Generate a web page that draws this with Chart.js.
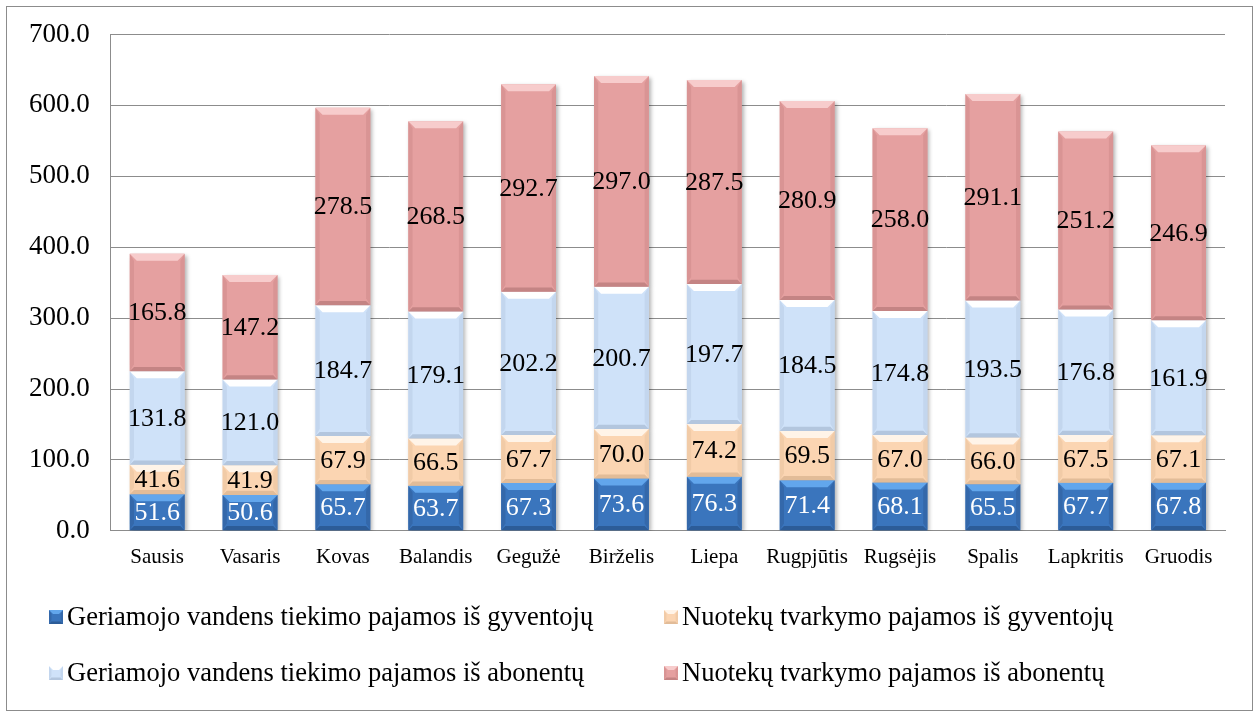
<!DOCTYPE html>
<html>
<head>
<meta charset="utf-8">
<script src="https://cdn.jsdelivr.net/npm/chart.js@4/dist/chart.umd.min.js"></script>
<style>
  html, body { margin: 0; padding: 0; background: #fff; }
  #wrap { width: 1259px; height: 711px; }
</style>
</head>
<body>
<div id="wrap"><canvas id="chart" width="1259" height="711"></canvas></div>
<script>
const months = ['Sausis', 'Vasaris', 'Kovas', 'Balandis', 'Gegužė', 'Birželis', 'Liepa', 'Rugpjūtis', 'Rugsėjis', 'Spalis', 'Lapkritis', 'Gruodis'];

const waterResidents = [51.6, 50.6, 65.7, 63.7, 67.3, 73.6, 76.3, 71.4, 68.1, 65.5, 67.7, 67.8];
const sewageResidents = [41.6, 41.9, 67.9, 66.5, 67.7, 70.0, 74.2, 69.5, 67.0, 66.0, 67.5, 67.1];
const waterSubscribers = [131.8, 121.0, 184.7, 179.1, 202.2, 200.7, 197.7, 184.5, 174.8, 193.5, 176.8, 161.9];
const sewageSubscribers = [165.8, 147.2, 278.5, 268.5, 292.7, 297.0, 287.5, 280.9, 258.0, 291.1, 251.2, 246.9];

const yTicks = [0, 100, 200, 300, 400, 500, 600, 700];

const FONT = '"Liberation Serif", "Times New Roman", serif';

// face colour + bevel colours for each series
const styles = [
  { fill: '#3a75bd', light: '#62a6ec', dark: '#2c5c98', side: '#3468aa', text: '#ffffff' },
  { fill: '#fbd5b2', light: '#fff4e8', dark: '#e2bc98', side: '#f1cba7', text: '#000000' },
  { fill: '#cfe2f9', light: '#ffffff', dark: '#b3c6de', side: '#c3d6ee', text: '#000000' },
  { fill: '#e5a0a0', light: '#f7cccc', dark: '#c48484', side: '#d99494', text: '#000000' }
];

// bevel painter used for bars and legend markers
function bevel(ctx, l, t, r, b, st, size) {
  const s = Math.min(size, (b - t) / 2, (r - l) / 2);
  ctx.fillStyle = st.side;
  ctx.beginPath(); ctx.moveTo(l, t); ctx.lineTo(l + s * 0.6, t + s); ctx.lineTo(l + s * 0.6, b - s); ctx.lineTo(l, b); ctx.closePath(); ctx.fill();
  ctx.beginPath(); ctx.moveTo(r, t); ctx.lineTo(r - s * 0.6, t + s); ctx.lineTo(r - s * 0.6, b - s); ctx.lineTo(r, b); ctx.closePath(); ctx.fill();
  ctx.fillStyle = st.light;
  ctx.beginPath(); ctx.moveTo(l, t); ctx.lineTo(r, t); ctx.lineTo(r - s, t + s); ctx.lineTo(l + s, t + s); ctx.closePath(); ctx.fill();
  ctx.fillStyle = st.dark;
  ctx.beginPath(); ctx.moveTo(l, b); ctx.lineTo(r, b); ctx.lineTo(r - s * 0.6, b - s * 0.6); ctx.lineTo(l + s * 0.6, b - s * 0.6); ctx.closePath(); ctx.fill();
}

const framePlugin = {
  id: 'frame',
  beforeDraw(chart) {
    const ctx = chart.ctx;
    ctx.save();
    ctx.fillStyle = '#fff';
    ctx.fillRect(0, 0, chart.width, chart.height);
    ctx.strokeStyle = '#8c8c8c';
    ctx.lineWidth = 1;
    ctx.strokeRect(6.5, 6.5, chart.width - 13, chart.height - 7);
    ctx.restore();
  }
};

const shadowPlugin = {
  id: 'barShadow',
  beforeDatasetsDraw(chart) {
    const ctx = chart.ctx;
    ctx.save();
    ctx.shadowColor = 'rgba(0,0,0,0.3)';
    ctx.shadowBlur = 4;
    ctx.shadowOffsetX = 2;
    ctx.shadowOffsetY = 2;
  },
  afterDatasetsDraw(chart) {
    chart.ctx.restore();
  }
};

const bevelPlugin = {
  id: 'bevelLabels',
  afterDatasetsDraw(chart) {
    const ctx = chart.ctx;
    ctx.save();
    chart.data.datasets.forEach((ds, i) => {
      const meta = chart.getDatasetMeta(i);
      meta.data.forEach(el => {
        const p = el.getProps(['x', 'y', 'base', 'width'], true);
        const l = p.x - p.width / 2, r = p.x + p.width / 2;
        const t = Math.min(p.y, p.base), b = Math.max(p.y, p.base);
        bevel(ctx, l, t, r, b, styles[i], 7);
      });
    });
    ctx.font = '26px ' + FONT;
    ctx.textAlign = 'center';
    ctx.textBaseline = 'middle';
    chart.data.datasets.forEach((ds, i) => {
      const meta = chart.getDatasetMeta(i);
      ctx.fillStyle = styles[i].text;
      meta.data.forEach((el, j) => {
        const p = el.getProps(['x', 'y', 'base'], true);
        ctx.fillText(ds.data[j].toFixed(1), p.x, (p.y + p.base) / 2 + 1);
      });
    });
    ctx.restore();
  }
};

// two-column legend like the original
const legendPlugin = {
  id: 'gridLegend',
  afterDraw(chart) {
    const ctx = chart.ctx;
    const colX = [49, 664];
    const rowY = [617, 673];
    ctx.save();
    ctx.font = '26.5px ' + FONT;
    ctx.textBaseline = 'middle';
    ctx.textAlign = 'left';
    chart.data.datasets.forEach((ds, k) => {
      const x = colX[k % 2], y = rowY[Math.floor(k / 2)];
      const st = styles[k];
      ctx.fillStyle = st.fill;
      ctx.fillRect(x, y - 7, 14, 14);
      bevel(ctx, x, y - 7, x + 14, y + 7, st, 4);
      ctx.fillStyle = '#000';
      ctx.fillText(ds.label, x + 18, y + 1);
    });
    ctx.restore();
  }
};

const seriesLabels = [
  'Geriamojo vandens tiekimo pajamos iš gyventojų',
  'Nuotekų tvarkymo pajamos iš gyventojų',
  'Geriamojo vandens tiekimo pajamos iš abonentų',
  'Nuotekų tvarkymo pajamos iš abonentų'
];
const seriesData = [waterResidents, sewageResidents, waterSubscribers, sewageSubscribers];

new Chart(document.getElementById('chart'), {
  type: 'bar',
  data: {
    labels: months,
    datasets: seriesData.map((d, i) => ({
      label: seriesLabels[i],
      data: d,
      backgroundColor: styles[i].fill,
      borderWidth: 0,
      categoryPercentage: 1,
      barPercentage: 0.59
    }))
  },
  options: {
    responsive: false,
    animation: false,
    layout: { padding: { left: 8, right: 34, top: 12, bottom: 127 } },
    plugins: {
      legend: { display: false },
      tooltip: { enabled: false }
    },
    scales: {
      x: {
        stacked: true,
        grid: { display: false, drawTicks: false },
        border: { color: '#8c8c8c', width: 1 },
        ticks: { color: '#000', font: { family: FONT, size: 21 }, padding: 14 }
      },
      y: {
        stacked: true,
        min: 0,
        max: 700,
        afterBuildTicks(axis) { axis.ticks = yTicks.map(v => ({ value: v })); },
        grid: { color: '#8c8c8c', drawTicks: false },
        border: { color: '#8c8c8c', width: 1 },
        ticks: {
          color: '#000',
          font: { family: FONT, size: 27, lineHeight: 1 },
          padding: 21,
          callback: v => Number(v).toFixed(1)
        }
      }
    }
  },
  plugins: [framePlugin, shadowPlugin, bevelPlugin, legendPlugin]
});
</script>
</body>
</html>
